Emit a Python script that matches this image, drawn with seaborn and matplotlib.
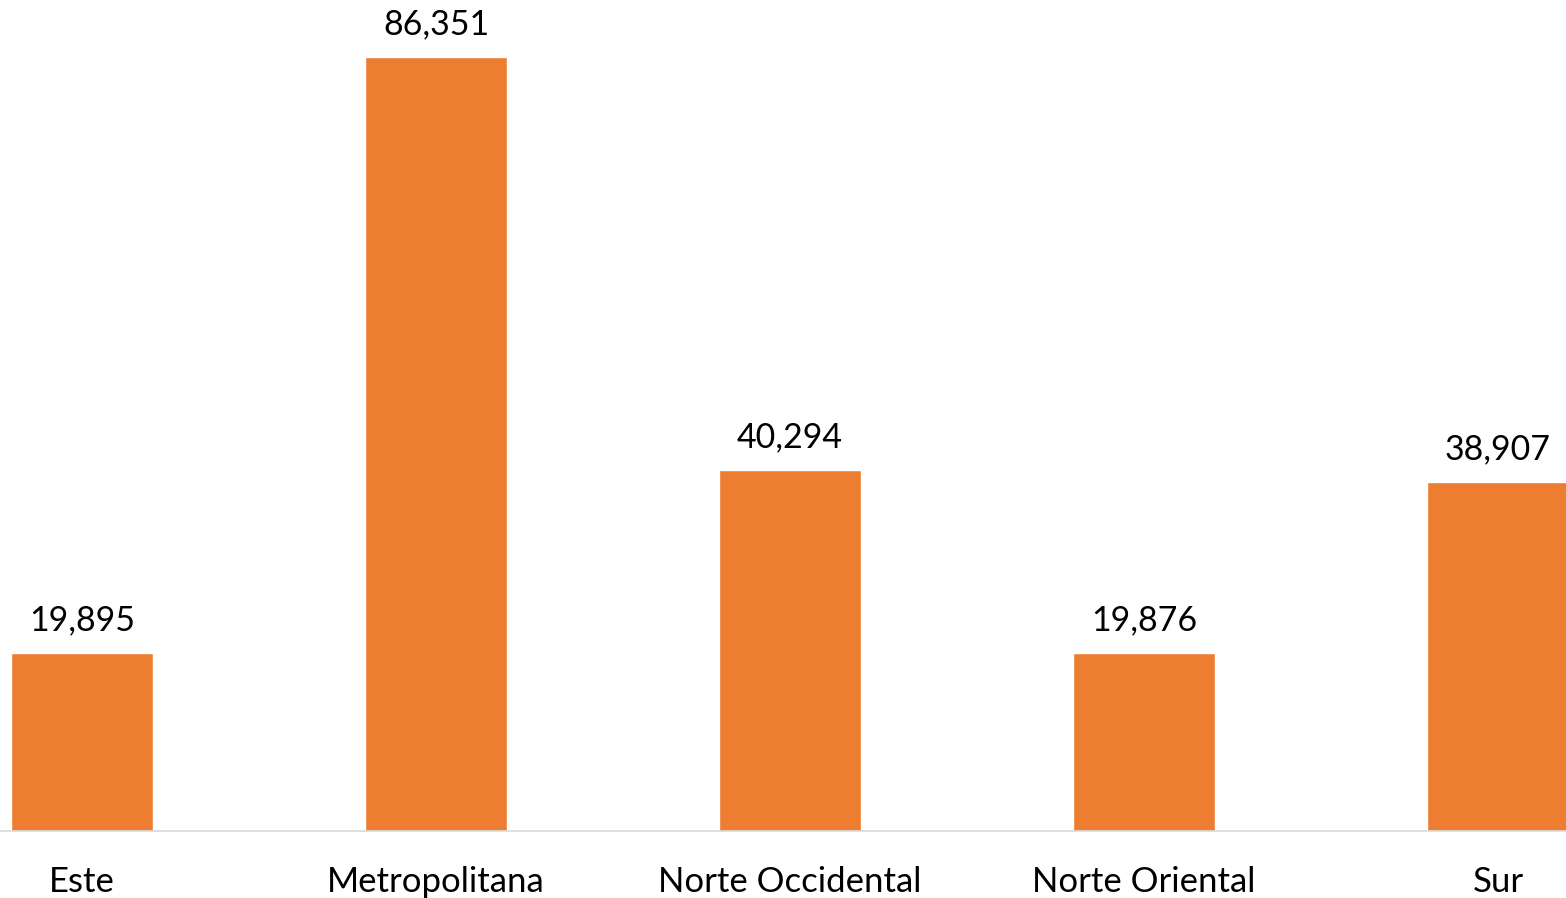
import matplotlib
matplotlib.use("Agg")
import matplotlib.pyplot as plt
import seaborn as sns
import pandas as pd

categories = ["Este", "Metropolitana", "Norte Occidental", "Norte Oriental", "Sur"]
values = [19895, 86351, 40294, 19876, 38907]

sns.set_theme(style="white")
plt.rcParams['font.family'] = ['Lato', 'DejaVu Sans']

df = pd.DataFrame({"region": categories, "value": values})

fig = plt.figure(figsize=(15.66, 8.98), dpi=100)
ax = fig.add_axes([0, 1 - 831 / 898, 1, 831 / 898])
sns.barplot(data=df, x="region", y="value", color="#ED7D31", width=0.4,
            saturation=1, ax=ax)
ax.set_xlim(-82 / 354, (1566 - 82) / 354)
ax.set_ylim(0, 831 / 774 * 86351)
for c in ax.containers:
    ax.bar_label(c, labels=[f"{v:,.0f}" for v in values], padding=12,
                 fontsize=24.5, color="black")
ax.set_xlabel("")
ax.set_ylabel("")
ax.set_yticks([])
for s in ["top", "right", "left"]:
    ax.spines[s].set_visible(False)
ax.spines["bottom"].set_color("#D9D9D9")
ax.spines["bottom"].set_linewidth(1.2)
ax.tick_params(axis="x", length=0, pad=25, labelsize=25, labelcolor="black")
fig.savefig("out.png", dpi=100)
